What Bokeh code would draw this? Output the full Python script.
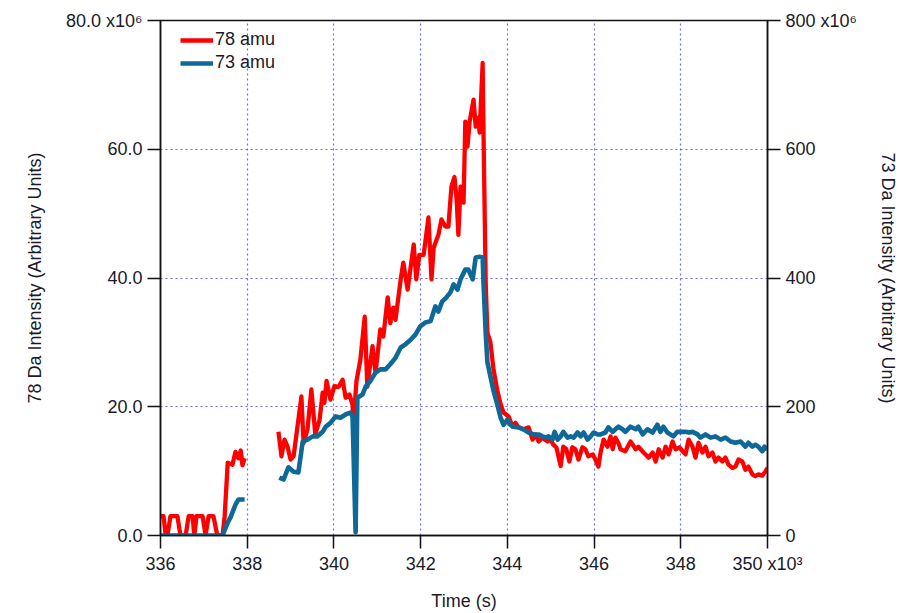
import numpy as np
from bokeh.plotting import figure
from bokeh.models import Range1d, LinearAxis, FixedTicker, ColumnDataSource
from bokeh.embed import file_html
from bokeh.resources import INLINE

# ---- data (time in 10^3 s) ----
# 78 amu, first segment
t78_a = [336.00, 336.07, 336.12, 336.16, 336.23, 336.39, 336.46, 336.58, 336.65, 336.74,
         336.78, 336.83, 336.97, 337.04, 337.11, 337.22, 337.31, 337.43, 337.48, 337.55,
         337.66, 337.73, 337.80, 337.85, 337.89, 337.94]
v78_a = [3, 3, 0, 0, 3, 3, 0, 0, 3, 3,
         0, 3, 3, 0, 3, 3, 0, 0, 3, 11.3,
         11, 13, 12, 13.2, 10.9, 12]
# 78 amu, second segment
t78_b = [338.72, 338.79, 338.86, 338.93, 339.00, 339.07, 339.25, 339.30, 339.39, 339.48,
         339.57, 339.67, 339.74, 339.78, 339.83, 339.92, 340.01, 340.11, 340.20, 340.27,
         340.36, 340.43, 340.45, 340.52, 340.61, 340.71, 340.77, 340.89, 340.96, 341.07,
         341.14, 341.24, 341.30, 341.37, 341.42, 341.54, 341.60, 341.70, 341.84, 341.90,
         341.97, 342.07, 342.18, 342.25, 342.30, 342.41, 342.48, 342.57, 342.64, 342.71,
         342.78, 342.83, 342.87, 342.92, 342.99, 343.03, 343.08, 343.13, 343.22, 343.27,
         343.33, 343.36, 343.43, 343.45, 343.50, 343.54, 343.61, 343.68, 343.77, 343.84,
         343.91, 344.03, 344.12, 344.19, 344.26, 344.37, 344.49, 344.58, 344.65, 344.72,
         344.81, 344.93, 345.00, 345.06, 345.13, 345.23, 345.29, 345.36, 345.43, 345.50,
         345.57, 345.64, 345.73, 345.80, 345.87, 345.97, 346.03, 346.10, 346.15, 346.22,
         346.31, 346.38, 346.43, 346.49, 346.56, 346.61, 346.72, 346.84, 346.96, 347.02,
         347.14, 347.26, 347.35, 347.42, 347.49, 347.58, 347.65, 347.72, 347.81, 347.88,
         347.97, 348.04, 348.11, 348.18, 348.27, 348.34, 348.41, 348.50, 348.57, 348.64,
         348.73, 348.80, 348.87, 348.96, 349.03, 349.10, 349.19, 349.26, 349.33, 349.42,
         349.49, 349.56, 349.65, 349.72, 349.79, 349.88, 349.95, 350.00]
v78_b = [16.1, 12.3, 14.9, 13.8, 11.8, 12.3, 21.6, 14.4, 16.5, 22.7,
         15.7, 18.0, 22.2, 20.6, 24.0, 21.1, 23.2, 23.1, 24.2, 21.4,
         21.9, 20.3, 17.5, 24.0, 27.3, 34.0, 23.1, 29.4, 25.3, 32.0,
         30.9, 37.0, 33.0, 35.4, 33.5, 39.8, 42.4, 38.2, 45.2, 39.8,
         43.6, 43.6, 49.4, 39.8, 44.7, 46.7, 49.1, 48.0, 48.0, 54.2,
         55.7, 52.2, 46.7, 54.2, 51.7, 64.3, 60.4, 64.3, 67.7, 63.5,
         64.9, 62.6, 73.4, 62.6, 39.3, 31.5, 30.0, 25.8, 22.5, 20.5,
         19.1, 18.5, 16.9, 17.5, 16.8, 16.5, 16.8, 14.9, 15.7, 14.6,
         15.2, 14.6, 14.9, 14.1, 13.7, 10.8, 13.8, 13.4, 11.5, 13.7,
         13.4, 11.8, 13.7, 13.4, 12.3, 12.6, 11.8, 10.7, 12.9, 14.9,
         13.8, 15.4, 13.4, 15.2, 14.4, 13.4, 13.1, 14.6, 13.4, 13.8,
         12.9, 12.1, 12.9, 11.5, 13.4, 12.1, 13.8, 12.6, 14.6, 13.4,
         13.7, 13.1, 12.6, 14.9, 13.8, 12.1, 14.4, 12.9, 13.8, 12.3,
         12.9, 11.5, 12.1, 11.5, 12.1, 11.0, 10.5, 10.7, 11.8, 11.5,
         10.2, 10.7, 9.5, 9.2, 9.5, 9.3, 9.9, 10.5]

# 73 amu (right axis, 10^6), first segment
t73_a = [336.00, 337.43, 337.55, 337.62, 337.66, 337.73, 337.80, 337.94]
v73_a = [0, 0, 20, 29, 36, 48, 56, 56]
# 73 amu, second segment
t73_b = [338.74, 338.84, 338.95, 339.07, 339.18, 339.28, 339.39, 339.51, 339.62, 339.74,
         339.81, 339.92, 340.04, 340.15, 340.27, 340.38, 340.43, 340.50, 340.54, 340.66,
         340.73, 340.84, 340.96, 341.07, 341.19, 341.30, 341.42, 341.54, 341.65, 341.77,
         341.88, 341.99, 342.11, 342.23, 342.34, 342.41, 342.50, 342.57, 342.69, 342.76,
         342.85, 342.92, 343.03, 343.10, 343.20, 343.27, 343.36, 343.43, 343.45, 343.50,
         343.54, 343.61, 343.68, 343.77, 343.84, 343.91, 344.00, 344.07, 344.14, 344.26,
         344.37, 344.49, 344.60, 344.72, 344.81, 344.88, 344.95, 345.04, 345.09, 345.16,
         345.23, 345.29, 345.39, 345.46, 345.53, 345.62, 345.69, 345.76, 345.85, 345.92,
         345.99, 346.08, 346.15, 346.26, 346.33, 346.43, 346.49, 346.56, 346.66, 346.72,
         346.84, 346.96, 347.02, 347.12, 347.23, 347.35, 347.46, 347.53, 347.60, 347.69,
         347.76, 347.83, 347.92, 347.99, 348.11, 348.18, 348.27, 348.39, 348.45, 348.57,
         348.69, 348.80, 348.92, 349.03, 349.15, 349.26, 349.38, 349.49, 349.56, 349.65,
         349.72, 349.79, 349.88, 349.93, 350.00]
v73_b = [90, 87, 106, 99, 98, 146, 149, 154, 154, 161,
         169, 175, 185, 183, 188, 191, 185, 5, 214, 219,
         231, 240, 253, 258, 258, 266, 276, 292, 297, 304,
         312, 325, 331, 333, 356, 348, 364, 368, 378, 390,
         382, 398, 413, 413, 398, 432, 433, 432, 393, 315,
         269, 247, 225, 203, 184, 172, 180, 172, 169, 168,
         165, 160, 157, 157, 154, 152, 154, 149, 161, 149,
         154, 161, 152, 154, 152, 160, 154, 160, 149, 154,
         160, 157, 157, 160, 168, 161, 165, 169, 165, 161,
         169, 165, 169, 157, 165, 160, 172, 161, 169, 160,
         157, 154, 161, 161, 161, 160, 161, 157, 152, 157,
         152, 154, 149, 152, 146, 144, 146, 138, 144, 138,
         141, 138, 131, 138, 134]

x_ticks = [336, 338, 340, 342, 344, 346, 348, 350]
x_labels = ["336", "338", "340", "342", "344", "346", "348", "350 x10\u00b3"]
yl_ticks = [0, 20, 40, 60, 80]
yl_labels = ["0.0", "20.0", "40.0", "60.0", "80.0 x10\u2076"]
yr_ticks = [0, 200, 400, 600, 800]
yr_labels = ["0", "200", "400", "600", "800 x10\u2076"]

FONT = "Liberation Sans"
TXT = "#1a1a2a"

p = figure(width=906, height=613, output_backend="svg", toolbar_location=None,
           x_range=Range1d(336, 350), y_range=Range1d(0, 80),
           min_border_left=160, min_border_right=139, min_border_top=20, min_border_bottom=77)
p.extra_y_ranges = {"r": Range1d(0, 800)}
p.background_fill_color = "white"
p.border_fill_color = "white"
p.outline_line_color = "#111111"
p.outline_line_width = 1.5

nan = float("nan")
src78 = ColumnDataSource(dict(t=t78_a + [nan] + t78_b, v=v78_a + [nan] + v78_b))
src73 = ColumnDataSource(dict(t=t73_a + [nan] + t73_b, v=v73_a + [nan] + v73_b))

p.line("t", "v", source=src78, color="#ff0000", line_width=4.3, line_join="round",
       legend_label="78 amu")
p.line("t", "v", source=src73, color="#0e6898", line_width=4.6, line_join="round",
       y_range_name="r", legend_label="73 amu")

ry = LinearAxis(y_range_name="r")
p.add_layout(ry, "right")

for ax, ticks, labels in ((p.xaxis[0], x_ticks, x_labels),
                          (p.yaxis[0], yl_ticks, yl_labels),
                          (ry, yr_ticks, yr_labels)):
    ax.ticker = FixedTicker(ticks=ticks)
    ax.major_label_overrides = {k: l for k, l in zip(ticks, labels)}
    ax.minor_tick_line_color = None
    ax.major_tick_in = 0
    ax.major_tick_out = 13
    ax.major_tick_line_color = "#111111"
    ax.major_tick_line_width = 1.5
    ax.axis_line_color = "#111111"
    ax.axis_line_width = 1.5
    ax.major_label_text_font = FONT
    ax.major_label_text_font_size = "18px"
    ax.major_label_text_color = TXT
    ax.axis_label_text_font = FONT
    ax.axis_label_text_font_size = "18px"
    ax.axis_label_text_font_style = "normal"
    ax.axis_label_text_color = TXT
    ax.major_label_standoff = 5
    ax.axis_label_standoff = 18

p.xaxis[0].axis_label = "Time (s)"
p.xaxis[0].axis_label_standoff = 14
p.yaxis[0].axis_label = "78 Da Intensity (Arbitrary Units)"
ry.axis_label = "73 Da Intensity (Arbitrary Units)"

for g in (p.xgrid[0], p.ygrid[0]):
    g.grid_line_color = "#5a5aff"
    g.grid_line_dash = "2 3"
    g.grid_line_width = 1.2
    g.grid_line_alpha = 0.9
p.xgrid[0].ticker = FixedTicker(ticks=x_ticks[1:-1])
p.ygrid[0].ticker = FixedTicker(ticks=yl_ticks[1:-1])

lg = p.legend[0]
lg.location = (20, 462)
lg.background_fill_alpha = 0
lg.border_line_color = None
lg.padding = 0
lg.margin = 0
lg.spacing = 2
lg.glyph_width = 33
lg.glyph_height = 20
lg.label_height = 20
lg.label_standoff = 2
lg.label_text_font = FONT
lg.label_text_font_size = "18px"
lg.label_text_color = TXT

open("out.html", "w").write(file_html(p, INLINE))
